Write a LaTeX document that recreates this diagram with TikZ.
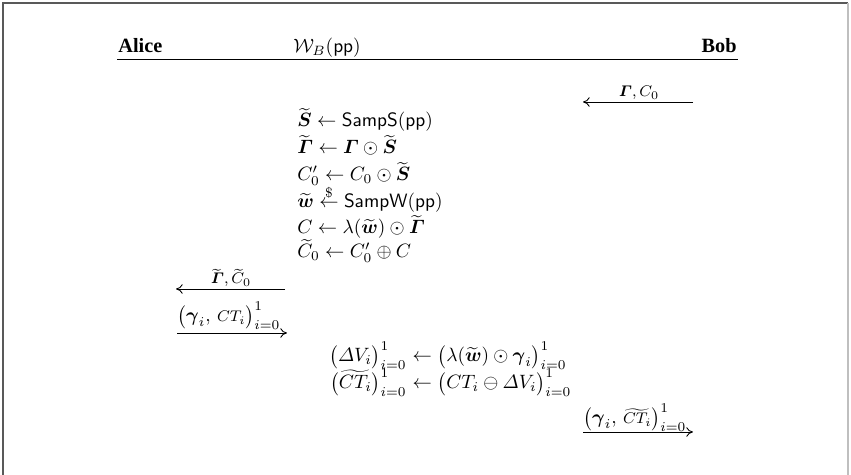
\documentclass[tikz,border=0pt]{standalone}
\usepackage{amsmath}
\usepackage{fontspec}
\newfontfamily\tmfont{Liberation Serif}
\usetikzlibrary{arrows.meta}
\begin{document}
\begin{tikzpicture}[x=0.518pt,y=-0.518pt,
  msg/.style={line width=0.45pt, -{Computer Modern Rightarrow[length=3.5pt,width=5pt]}},
  role/.style={font=\tmfont\bfseries\fontsize{10.5}{12}\selectfont, inner sep=0},
  row/.style={anchor=base west, inner sep=0},
  lbl/.style={inner sep=0, anchor=base, font=\footnotesize}]
\useasboundingbox (0,0) rectangle (851,475);
\draw[black!65, line width=0.8pt] (3,475) -- (3,3) -- (848,3);
\draw[black!25, line width=0.6pt] (848,3) -- (848,475);

% header
\node[role, anchor=base west] (alice) at (118,53) {Alice};
\node[row] (wb) at (293,53) {$\mathcal{W}_B(\mathsf{pp})$};
\node[role, anchor=base east] (bob) at (737,53) {Bob};
\coordinate (hl) at (117,59);
\coordinate (hr) at (738,59);
\draw[line width=0.5pt] (hl) -- (hr);

% Bob -> W
\coordinate (b1) at (693,102);
\coordinate (b2) at (583,102);
\draw[msg] (b1) -- (b2);
\node[lbl] (lb) at (639,97) {$\boldsymbol{\varGamma}, C_0$};

% computations
\node[row] (s1) at (297,127) {$\widetilde{\boldsymbol{S}} \leftarrow \mathsf{SampS}(\mathsf{pp})$};
\node[row] (s2) at (297,154) {$\widetilde{\boldsymbol{\varGamma}} \leftarrow \boldsymbol{\varGamma} \odot \widetilde{\boldsymbol{S}}$};
\node[row] (s3) at (297,181) {$C_0' \leftarrow C_0 \odot \widetilde{\boldsymbol{S}}$};
\node[row] (s4) at (297,208) {$\widetilde{\boldsymbol{w}} \overset{\$}{\leftarrow} \mathsf{SampW}(\mathsf{pp})$};
\node[row] (s5) at (297,234) {$C \leftarrow \lambda(\widetilde{\boldsymbol{w}}) \odot \widetilde{\boldsymbol{\varGamma}}$};
\node[row] (s6) at (297,258) {$\widetilde{C}_0 \leftarrow C_0' \oplus C$};

% W -> Alice
\coordinate (a1) at (285,289);
\coordinate (a2) at (176,289);
\draw[msg] (a1) -- (a2);
\node[lbl] (la) at (231,284) {$\widetilde{\boldsymbol{\varGamma}}, \widetilde{C}_0$};

% Alice -> W
\coordinate (g1) at (177,333);
\coordinate (g2) at (287,333);
\draw[msg] (g1) -- (g2);
\node[row] (lg) at (177,322) {$\big(\boldsymbol{\gamma}_i,\,\mbox{\footnotesize$CT_i$}\big)_{i=0}^1$};

% second computations
\node[inner sep=0, anchor=base east] (d1l) at (407,362) {$\big(\varDelta V_i\big)_{i=0}^1$};
\node[row] (d1r) at (407,362) {${}\leftarrow \big(\lambda(\widetilde{\boldsymbol{w}}) \odot \boldsymbol{\gamma}_i\big)_{i=0}^1$};
\node[inner sep=0, anchor=base east] (d2l) at (407,389) {$\big(\widetilde{CT_i}\big)_{i=0}^1$};
\node[row] (d2r) at (407,389) {${}\leftarrow \big(CT_i \ominus \varDelta V_i\big)_{i=0}^1$};

% W -> Bob
\coordinate (f1) at (583,432);
\coordinate (f2) at (693,432);
\draw[msg] (f1) -- (f2);
\node[row] (lf) at (583,424) {$\big(\boldsymbol{\gamma}_i,\,\mbox{\footnotesize$\widetilde{CT_i}$}\big)_{i=0}^1$};
\end{tikzpicture}
\end{document}
